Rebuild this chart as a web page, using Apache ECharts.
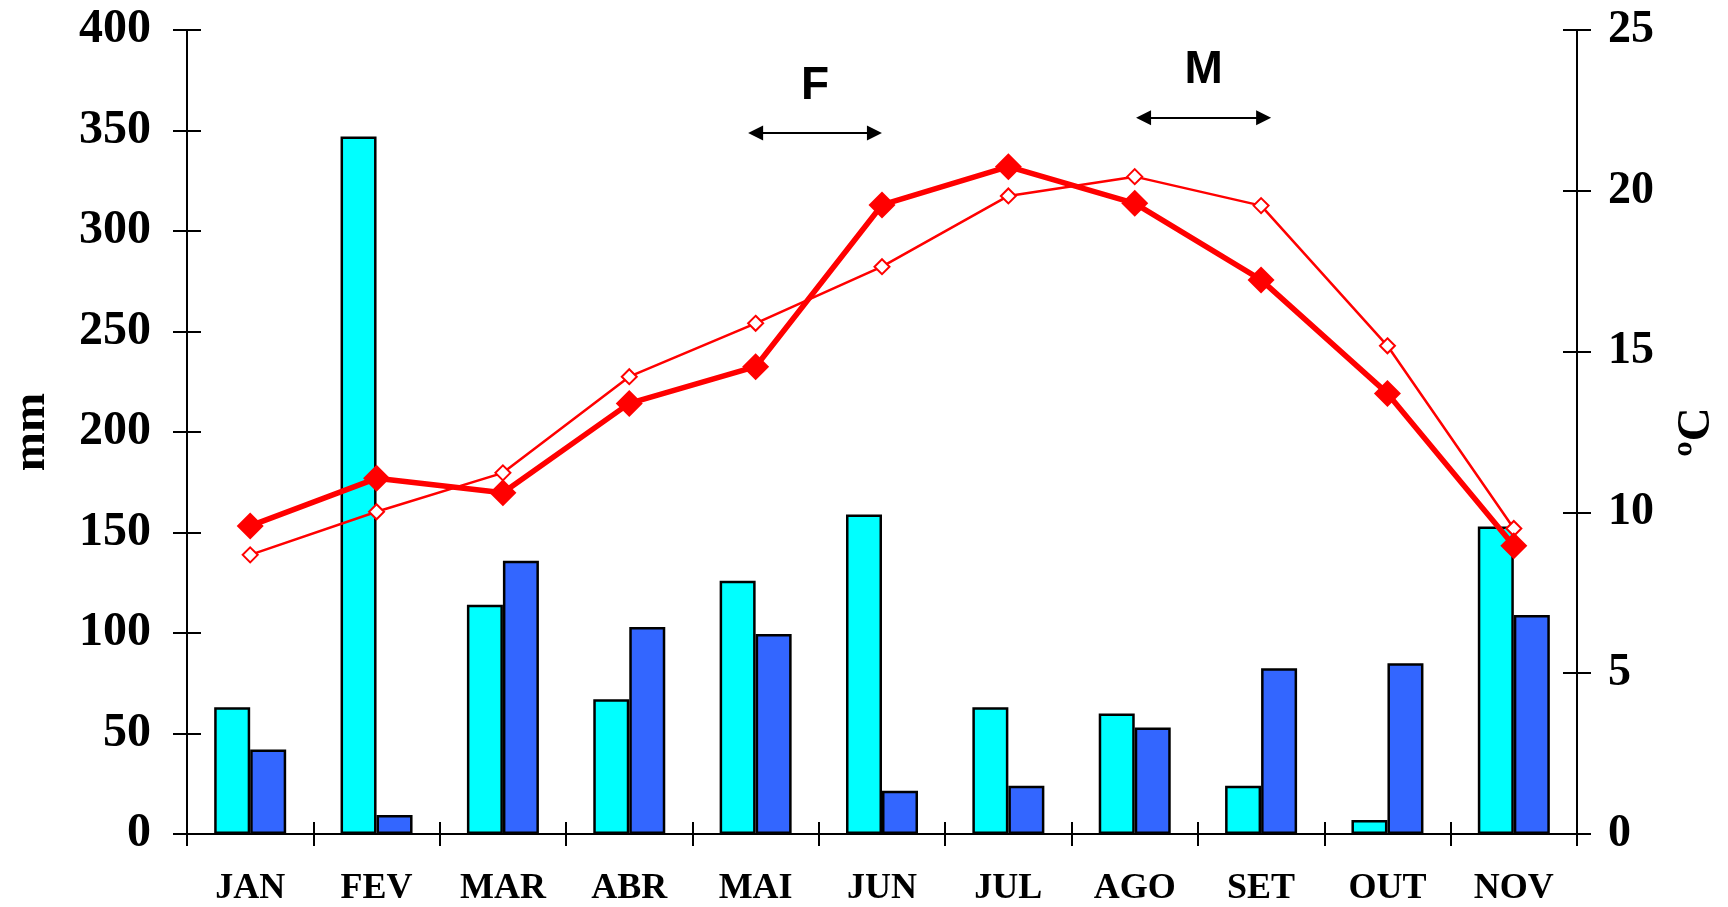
<!DOCTYPE html>
<html>
<head>
<meta charset="utf-8">
<script src="https://cdn.jsdelivr.net/npm/echarts@6/dist/echarts.min.js"></script>
<style>
html,body{margin:0;padding:0;background:#fff;}
#chart{width:1728px;height:907px;}
</style>
</head>
<body>
<div id="chart"></div>
<script>
var months = ['JAN','FEV','MAR','ABR','MAI','JUN','JUL','AGO','SET','OUT','NOV'];
var precipA = [63, 347, 114, 67, 126, 159, 63, 60, 24, 7, 153];
var precipB = [42, 9.5, 136, 103, 99.5, 21.5, 24, 53, 82.5, 85, 109];
var tempA = [9.58, 11.06, 10.61, 13.39, 14.53, 19.56, 20.75, 19.61, 17.23, 13.70, 8.96];
var tempB = [8.68, 10.02, 11.23, 14.22, 15.88, 17.64, 19.84, 20.44, 19.54, 15.18, 9.50];
var mmTicks = [0, 400, 50];
var tempTicks = [0, 25, 5];
var periods = [
  {label: 'F', from: 4.0, to: 4.94, y: 21.8},
  {label: 'M', from: 7.07, to: 8.02, y: 22.27}
];

var serif = 'Liberation Serif';
var sans = 'Liberation Sans';
var black = '#000';

var chart = echarts.init(document.getElementById('chart'));

function yAx(pos, ticks, inside, showLabel, name, extra) {
  var o = {
    type: 'value', position: pos, min: ticks[0], max: ticks[1], interval: ticks[2],
    splitLine: {show: false},
    axisLine: {show: !inside, onZero: false, lineStyle: {color: black, width: 2}},
    axisTick: {show: true, inside: inside, length: 14, lineStyle: {color: black, width: 2}},
    axisLabel: {show: showLabel, color: black, fontFamily: serif, fontWeight: 'bold', fontSize: 48, margin: 36}
  };
  if (name) {
    o.name = name;
    o.nameLocation = 'middle';
  }
  return Object.assign(o, extra || {});
}

var option = {
  backgroundColor: '#fff',
  animation: false,
  grid: {left: 183, right: 141, top: 30, bottom: 73, containLabel: false},
  xAxis: [
    {type: 'category', data: months, position: 'bottom',
     axisLine: {onZero: false, lineStyle: {color: black, width: 2}},
     axisTick: {show: true, interval: 0, length: 12, lineStyle: {color: black, width: 2}},
     axisLabel: {color: black, fontFamily: serif, fontWeight: 'bold', fontSize: 36, margin: 37, interval: 0}},
    {type: 'category', data: months, position: 'bottom',
     axisLine: {show: false, onZero: false},
     axisTick: {show: true, inside: true, interval: 0, length: 12, lineStyle: {color: black, width: 2}},
     axisLabel: {show: false}},
    {type: 'value', min: -0.5, max: months.length - 0.5, show: false,
     axisLine: {onZero: false}}
  ],
  yAxis: [
    yAx('left', mmTicks, false, true, 'mm', {nameRotate: 90, nameGap: 132,
      nameTextStyle: {color: black, fontFamily: serif, fontWeight: 'bold', fontSize: 47}}),
    yAx('right', tempTicks, false, true, 'ºC', {nameRotate: 90, nameGap: 96,
      nameTextStyle: {color: black, fontFamily: serif, fontWeight: 'bold', fontSize: 47},
      axisLabel: {color: black, fontFamily: serif, fontWeight: 'bold', fontSize: 46, margin: 31}}),
    yAx('left', mmTicks, true, false),
    yAx('right', tempTicks, true, false)
  ],
  series: [
    {type: 'bar', xAxisIndex: 0, yAxisIndex: 0, data: precipA, barWidth: 36, barGap: '0%',
     itemStyle: {color: '#00FFFF', borderColor: black, borderWidth: 2.5}, z: 2},
    {type: 'bar', xAxisIndex: 0, yAxisIndex: 0, data: precipB, barWidth: 36, barGap: '0%',
     itemStyle: {color: '#3366FF', borderColor: black, borderWidth: 2.5}, z: 2},
    {type: 'line', xAxisIndex: 0, yAxisIndex: 1, data: tempB, symbol: 'diamond', symbolSize: 15,
     showAllSymbol: true,
     lineStyle: {color: '#FF0000', width: 2.5},
     itemStyle: {color: '#FFFFFF', borderColor: '#FF0000', borderWidth: 2}, z: 3},
    {type: 'line', xAxisIndex: 0, yAxisIndex: 1, data: tempA, symbol: 'diamond', symbolSize: 27,
     showAllSymbol: true,
     lineStyle: {color: '#FF0000', width: 5.5},
     itemStyle: {color: '#FF0000'}, z: 4},
    {type: 'scatter', xAxisIndex: 2, yAxisIndex: 1, data: [], silent: true,
     markLine: {
       silent: true, animation: false,
       symbol: ['triangle', 'triangle'], symbolSize: [15, 15],
       lineStyle: {color: black, width: 2, type: 'solid'},
       label: {show: true, position: 'middle', formatter: '{b}', color: black,
               fontFamily: sans, fontWeight: 'bold', fontSize: 46, distance: 24},
       emphasis: {disabled: true},
       data: periods.map(function (p) {
         return [{name: p.label, coord: [p.from, p.y]}, {coord: [p.to, p.y]}];
       })
     }}
  ]
};
chart.setOption(option);
</script>
</body>
</html>
